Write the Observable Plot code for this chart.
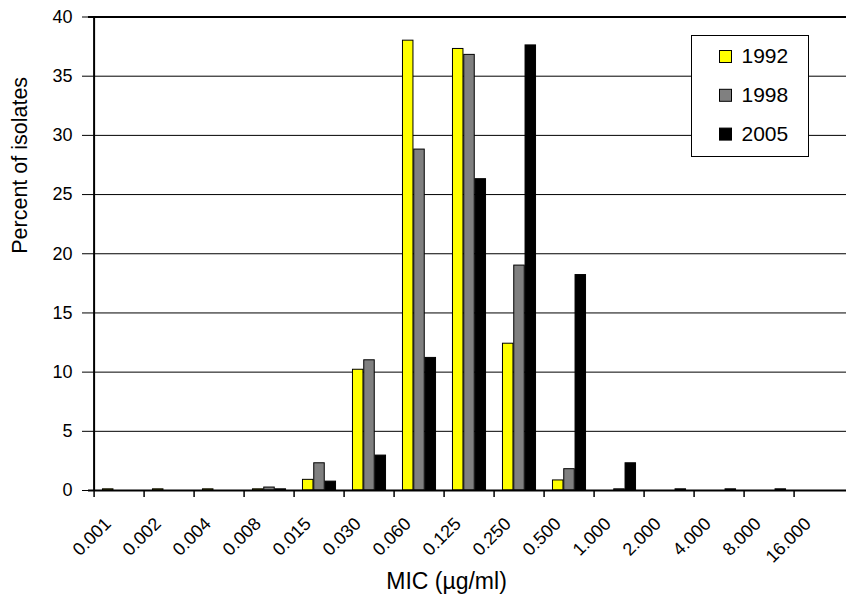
<!DOCTYPE html>
<html><head><meta charset="utf-8">
<script src="https://cdn.jsdelivr.net/npm/d3@7"></script>
<script src="https://cdn.jsdelivr.net/npm/@observablehq/plot@0.6"></script>
<style>
html,body{margin:0;padding:0;background:#fff;overflow:hidden;}
#chart svg{display:block;font-family:"Liberation Sans",Arial,sans-serif;}
</style></head><body><div id="chart"></div>
<script>
// ---- data ----
const categories = ["0.001","0.002","0.004","0.008","0.015","0.030","0.060","0.125","0.250","0.500","1.000","2.000","4.000","8.000","16.000"];
const years = ["1992","1998","2005"];
const colors = ["#FFFF00","#808080","#000000"];
const values1992 = [0.1,0.1,0.1,0.1,0.9,10.2,38.0,37.3,12.4,0.85,0,0,0,0,0];
const values1998 = [0,0,0,0.25,2.3,11.0,28.8,36.8,19.0,1.8,0.1,0,0,0,0];
const values2005 = [0,0,0,0.1,0.75,2.95,11.2,26.3,37.6,18.2,2.3,0.1,0.1,0.1,0];
const yTicks = [0,5,10,15,20,25,30,35,40];
const xTitle = "MIC (µg/ml)";
const yTitle = "Percent of isolates";

// ---- layout ----
const W = 846, H = 606;
const plotLeft = 88, plotTop = 16.5, plotBottom = 490, plotRight = 850;
const bw = (plotRight - plotLeft) / categories.length;
const barW = bw / 4.5;
const pxPerUnit = (plotBottom - plotTop) / 40;
const series = [values1992, values1998, values2005];
const rows = categories.flatMap((c, i) => years.map((yr, k) => ({mic: c, year: yr, value: series[k][i]})));

const barMarks = years.map((yr, k) => Plot.barY(rows.filter(d => d.year === yr && d.value > 0), {
  x: "mic", y: "value", fill: colors[k], stroke: "#000", strokeWidth: 1,
  insetLeft: (0.75 + k) * barW, insetRight: (2.75 - k) * barW
}));

const chart = Plot.plot({
  width: W, height: H,
  marginLeft: plotLeft, marginRight: 0, marginTop: plotTop, marginBottom: H - plotBottom,
  style: {fontFamily: "'Liberation Sans', Arial, sans-serif", fontSize: "18px", background: "white", color: "black"},
  x: {domain: categories, range: [plotLeft, plotRight], padding: 0, axis: null},
  y: {domain: [0, 40], ticks: 8, tickSize: 6, tickPadding: 10, label: null},
  marks: [
    Plot.ruleY(yTicks.filter(v => v > 0 && v < 40), {stroke: "#000", strokeWidth: 1}),
    Plot.ruleY([40], {stroke: "#000", strokeWidth: 2}),
    ...barMarks,
    Plot.ruleY([0], {stroke: "#000", strokeWidth: 2}),
    Plot.ruleX([categories[0]], {x: d => d, y1: 0, y2: 40, dx: -bw / 2, stroke: "#000", strokeWidth: 2}),
    Plot.ruleX(categories, {x: d => d, y1: 0, y2: -7 / pxPerUnit, dx: -bw / 2, stroke: "#000", strokeWidth: 1.5}),
    Plot.text(categories, {x: d => d, y: 0, text: d => d, rotate: -45, textAnchor: "end", dx: -11.6, dy: 30.3, fontSize: 18, fill: "#000"}),
    Plot.text([xTitle], {text: d => d, frameAnchor: "bottom", dx: -21, dy: 98.6, fontSize: 23, fill: "#000"}),
    Plot.text([yTitle], {text: d => d, frameAnchor: "left", rotate: -90, dx: -68, fontSize: 21.5, fill: "#000"})
  ]
});
document.getElementById("chart").appendChild(chart);

// ---- legend ----
const svg = d3.select(chart);
const lg = svg.append("g").attr("text-anchor", "start");
lg.append("rect").attr("x", 691.5).attr("y", 35.5).attr("width", 117).attr("height", 121)
  .attr("fill", "white").attr("stroke", "#000").attr("stroke-width", 1);
years.forEach((yr, k) => {
  lg.append("rect").attr("x", 719.5).attr("y", 50.5 + k * 38.8).attr("width", 12).attr("height", 12)
    .attr("fill", colors[k]).attr("stroke", "#000").attr("stroke-width", 1);
  lg.append("text").attr("x", 741.5).attr("y", 63.3 + k * 38.9).attr("font-size", 21)
    .attr("text-anchor", "start").attr("fill", "#000")
    .attr("font-family", "'Liberation Sans', Arial, sans-serif").text(yr);
});
</script></body></html>
